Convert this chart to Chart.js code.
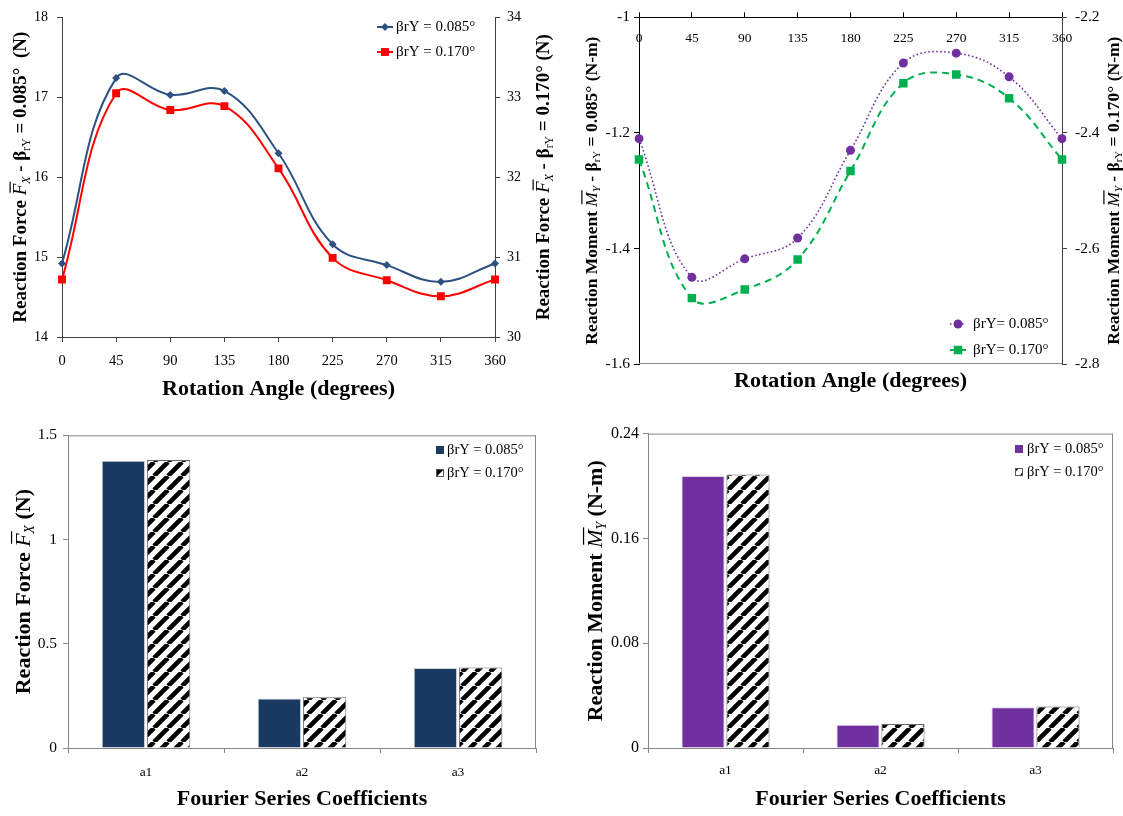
<!DOCTYPE html>
<html>
<head>
<meta charset="utf-8">
<script src="https://cdn.jsdelivr.net/npm/chart.js@4.4.1/dist/chart.umd.min.js"></script>
<style>
  html, body { margin: 0; padding: 0; background: #fff; }
  body { width: 1123px; height: 816px; position: relative; overflow: hidden; }
  canvas { position: absolute; }
</style>
</head>
<body>
<canvas id="forceLine" width="560" height="410" style="left:0;top:0"></canvas>
<canvas id="momentLine" width="563" height="410" style="left:560px;top:0"></canvas>
<canvas id="forceBars" width="560" height="396" style="left:0;top:420px"></canvas>
<canvas id="momentBars" width="563" height="396" style="left:560px;top:420px"></canvas>
<script>
// rotation angle sweep (degrees)
const angles = ['0', '45', '90', '135', '180', '225', '270', '315', '360'];

// mean reaction force Fx, left axis (0.085°) and right axis (0.170°)
const forceLow = [14.92, 17.24, 17.03, 17.08, 16.30, 15.16, 14.90, 14.69, 14.92];
const forceHigh = [30.72, 33.05, 32.84, 32.89, 32.11, 30.99, 30.71, 30.51, 30.72];

// mean reaction moment My, left axis (0.085°) and right axis (0.170°)
const momentLow = [-1.210, -1.450, -1.418, -1.382, -1.230, -1.079, -1.062, -1.103, -1.210];
const momentHigh = [-2.446, -2.686, -2.671, -2.619, -2.466, -2.314, -2.299, -2.340, -2.446];

// Fourier series coefficients
const coeffs = ['a1', 'a2', 'a3'];
const forceCoeffLow = [1.378, 0.238, 0.384];
const forceCoeffHigh = [1.381, 0.243, 0.386];
const momentCoeffLow = [0.2077, 0.0178, 0.0312];
const momentCoeffHigh = [0.2088, 0.0183, 0.0317];

// tick values
const forceTicksLeft = [14, 15, 16, 17, 18];
const forceTicksRight = [30, 31, 32, 33, 34];
const momentTicksLeft = [-1.6, -1.4, -1.2, -1];
const momentTicksRight = [-2.8, -2.6, -2.4, -2.2];
const forceCoeffTicks = [0, 0.5, 1, 1.5];
const momentCoeffTicks = [0, 0.08, 0.16, 0.24];

const lowLabel = 'βrY = 0.085°';
const highLabel = 'βrY = 0.170°';

const serif = '"Liberation Serif", "Times New Roman", serif';

// diagonal hatch for the 0.170° bars
function hatch() {
  const s = 14;
  const tile = document.createElement('canvas');
  tile.width = s; tile.height = s;
  const c = tile.getContext('2d');
  c.fillStyle = '#fff';
  c.fillRect(0, 0, s, s);
  c.strokeStyle = '#000';
  c.lineWidth = 4.6;
  c.beginPath();
  for (let k = -1; k <= 1; k++) {
    c.moveTo(k * s, s);
    c.lineTo(k * s + s, 0);
  }
  c.stroke();
  return c.createPattern(tile, 'repeat');
}
const stripes = hatch();

function yAxis(position, ticks, width, color, padding, size) {
  return {
    position,
    min: ticks[0],
    max: ticks[ticks.length - 1],
    afterBuildTicks: s => { s.ticks = ticks.map(value => ({ value })); },
    afterFit: s => { s.width = width; },
    ticks: { font: { family: serif, size }, color: '#000', padding, callback: v => String(+v.toFixed(3)) },
    grid: { drawOnChartArea: false, tickLength: 5, color, tickColor: color },
    border: { color, width: 1 }
  };
}

function xAxis(height, color, padding, size, extra) {
  return Object.assign({
    afterFit: s => { s.height = height; },
    ticks: { font: { family: serif, size }, color: '#000', padding, maxRotation: 0, autoSkip: false },
    grid: { drawOnChartArea: false, tickLength: 5, color, tickColor: color },
    border: { color, width: 1 }
  }, extra || {});
}

// axis titles with italic, overlined and subscript pieces
function drawRich(ctx, parts, cx, cy, angle, size) {
  const runs = parts.map(([text, style]) => {
    const tags = style.split(' ');
    const sub = tags.includes('sub');
    const px = sub ? size * 0.62 : size;
    const font = (tags.includes('I') ? 'italic ' : '') + (tags.includes('B') ? 'bold ' : '') + px + 'px ' + serif;
    ctx.font = font;
    return { text, font, sub, bar: tags.includes('bar'), w: ctx.measureText(text).width };
  });
  const total = runs.reduce((t, r) => t + r.w, 0);
  ctx.save();
  ctx.translate(cx, cy);
  ctx.rotate(angle);
  ctx.fillStyle = '#000';
  ctx.strokeStyle = '#000';
  ctx.textBaseline = 'alphabetic';
  const base = size * 0.34;
  let x = -total / 2;
  runs.forEach(r => {
    ctx.font = r.font;
    ctx.fillText(r.text, x, r.sub ? base + size * 0.18 : base);
    if (r.bar) {
      ctx.lineWidth = 1.2;
      ctx.beginPath();
      ctx.moveTo(x + size * 0.14, base - size * 0.86);
      ctx.lineTo(x + r.w + size * 0.1, base - size * 0.86);
      ctx.stroke();
    }
    x += r.w;
  });
  ctx.restore();
}

function titles(items) {
  return {
    id: 'titles',
    afterDraw(chart) {
      const a = chart.chartArea;
      items.forEach(t => {
        if (t.side === 'bottom') drawRich(chart.ctx, t.parts, (a.left + a.right) / 2, t.pos, 0, t.size);
        else drawRich(chart.ctx, t.parts, t.pos, (a.top + a.bottom) / 2, -Math.PI / 2, t.size);
      });
    }
  };
}

function frame(color, sides) {
  return {
    id: 'frame',
    beforeDatasetsDraw(chart) {
      const { ctx, chartArea: a } = chart;
      ctx.save();
      ctx.strokeStyle = color;
      ctx.lineWidth = 1;
      ctx.beginPath();
      if (sides.includes('top')) { ctx.moveTo(a.left, a.top + 0.5); ctx.lineTo(a.right, a.top + 0.5); }
      if (sides.includes('bottom')) { ctx.moveTo(a.left, a.bottom - 0.5); ctx.lineTo(a.right, a.bottom - 0.5); }
      if (sides.includes('right')) { ctx.moveTo(a.right - 0.5, a.top); ctx.lineTo(a.right - 0.5, a.bottom); }
      ctx.stroke();
      ctx.restore();
    }
  };
}

function marker(ctx, style, x, y, r, color) {
  ctx.fillStyle = color;
  ctx.beginPath();
  if (style === 'circle') {
    ctx.arc(x, y, r, 0, Math.PI * 2);
  } else if (style === 'rectRot') {
    ctx.moveTo(x - r, y); ctx.lineTo(x, y - r); ctx.lineTo(x + r, y); ctx.lineTo(x, y + r); ctx.closePath();
  } else {
    const h = r * Math.SQRT1_2;
    ctx.rect(x - h, y - h, 2 * h, 2 * h);
  }
  ctx.fill();
}

function lineKey(x, ys, gap, size) {
  return {
    id: 'lineKey',
    afterDraw(chart) {
      const ctx = chart.ctx;
      chart.data.datasets.forEach((ds, i) => {
        const y = ys[i];
        ctx.save();
        ctx.strokeStyle = ds.borderColor;
        ctx.lineWidth = ds.borderWidth;
        ctx.setLineDash(ds.borderDash || []);
        ctx.beginPath();
        ctx.moveTo(x, y);
        ctx.lineTo(x + 16, y);
        ctx.stroke();
        ctx.setLineDash([]);
        marker(ctx, ds.pointStyle, x + 8, y, ds.pointRadius, ds.pointBackgroundColor);
        ctx.font = size + 'px ' + serif;
        ctx.fillStyle = '#000';
        ctx.textBaseline = 'middle';
        ctx.fillText(ds.label, x + 16 + gap, y);
        ctx.restore();
      });
    }
  };
}

function barKey(x, ys, gap, size) {
  return {
    id: 'barKey',
    afterDraw(chart) {
      const ctx = chart.ctx;
      chart.data.datasets.forEach((ds, i) => {
        const y = ys[i];
        ctx.save();
        ctx.fillStyle = ds.backgroundColor;
        ctx.fillRect(x, y - 4, 8, 8);
        if (i > 0) {
          ctx.strokeStyle = '#555';
          ctx.lineWidth = 1;
          ctx.strokeRect(x + 0.5, y - 3.5, 7, 7);
        }
        ctx.font = size + 'px ' + serif;
        ctx.fillStyle = '#000';
        ctx.textBaseline = 'middle';
        ctx.fillText(ds.label, x + 8 + gap, y);
        ctx.restore();
      });
    }
  };
}

const base = {
  responsive: false,
  animation: false,
  devicePixelRatio: 1,
};
const quiet = { legend: { display: false }, tooltip: { enabled: false } };

// Reaction force vs rotation angle
const blue = '#2C5080';
const red = '#FF0000';
new Chart(document.getElementById('forceLine'), {
  type: 'line',
  data: {
    labels: angles,
    datasets: [
      { label: lowLabel, data: forceLow, yAxisID: 'y', borderColor: blue, pointBackgroundColor: blue, pointBorderColor: blue,
        borderWidth: 2, pointStyle: 'rectRot', pointRadius: 4, pointBorderWidth: 0, tension: 0.4 },
      { label: highLabel, data: forceHigh, yAxisID: 'y2', borderColor: red, pointBackgroundColor: red, pointBorderColor: red,
        borderWidth: 2, pointStyle: 'rect', pointRadius: 5.6, pointBorderWidth: 0, tension: 0.4 }
    ]
  },
  options: Object.assign({}, base, {
    layout: { padding: { top: 12, left: 0, right: 0, bottom: 0 } },
    plugins: quiet,
    scales: {
      x: xAxis(73, '#404040', 10, 14.5),
      y: yAxis('left', forceTicksLeft, 62, '#404040', 9, 14),
      y2: yAxis('right', forceTicksRight, 65, '#404040', 7, 14)
    }
  }),
  plugins: [
    lineKey(377, [27, 52], 3, 15),
    titles([
      { side: 'left', pos: 20, size: 19, parts: [['Reaction Force ', 'B'], ['F', 'I bar'], ['X', 'I sub'], [' - β', 'B'], ['rY', 'sub'], [' = 0.085°  (N)', 'B']] },
      { side: 'right', pos: 543, size: 19, parts: [['Reaction Force ', 'B'], ['F', 'I bar'], ['X', 'I sub'], [' - β', 'B'], ['rY', 'sub'], [' = 0.170° (N)', 'B']] },
      { side: 'bottom', pos: 388, size: 22, parts: [['Rotation Angle (degrees)', 'B']] }
    ])
  ]
});

// Reaction moment vs rotation angle
const purple = '#7030A0';
const green = '#00B050';
new Chart(document.getElementById('momentLine'), {
  type: 'line',
  data: {
    labels: angles,
    datasets: [
      { label: 'βrY= 0.085°', data: momentLow, yAxisID: 'y', borderColor: purple, pointBackgroundColor: purple, pointBorderColor: purple,
        borderWidth: 1.6, borderDash: [1.6, 2.4], pointStyle: 'circle', pointRadius: 4.5, pointBorderWidth: 0, tension: 0.4 },
      { label: 'βrY= 0.170°', data: momentHigh, yAxisID: 'y2', borderColor: green, pointBackgroundColor: green, pointBorderColor: green,
        borderWidth: 2, borderDash: [7, 5], pointStyle: 'rect', pointRadius: 6, pointBorderWidth: 0, tension: 0.4 }
    ]
  },
  options: Object.assign({}, base, {
    layout: { padding: { top: 0, left: 0, right: 0, bottom: 46 } },
    plugins: quiet,
    scales: {
      // the angle labels sit inside the plot, under the top axis line
      x: xAxis(13, '#000', 13, 13.5, { position: 'top' }),
      y: yAxis('left', momentTicksLeft, 79, '#000', 4, 15.5),
      y2: yAxis('right', momentTicksRight, 61, '#404040', 8, 15.5)
    }
  }),
  plugins: [
    frame('#8c8c8c', ['bottom']),
    lineKey(390, [324, 350], 7, 15),
    titles([
      { side: 'left', pos: 31, size: 17.5, parts: [['Reaction Moment ', 'B'], ['M', 'I bar'], ['Y', 'I sub'], [' - β', 'B'], ['rY', 'sub'], [' = 0.085° (N-m)', 'B']] },
      { side: 'right', pos: 553, size: 17.5, parts: [['Reaction Moment ', 'B'], ['M', 'I bar'], ['Y', 'I sub'], [' - β', 'B'], ['rY', 'sub'], [' = 0.170° (N-m)', 'B']] },
      { side: 'bottom', pos: 380, size: 22, parts: [['Rotation Angle (degrees)', 'B']] }
    ])
  ]
});
Chart.getChart('momentLine').options.scales.x.ticks.mirror = true;
Chart.getChart('momentLine').update();

// Fourier coefficients of the reaction force
const navy = '#1B3A61';
new Chart(document.getElementById('forceBars'), {
  type: 'bar',
  data: {
    labels: coeffs,
    datasets: [
      { label: lowLabel, data: forceCoeffLow, backgroundColor: navy, borderColor: '#d0d6de', borderWidth: 1 },
      { label: highLabel, data: forceCoeffHigh, backgroundColor: stripes, borderColor: '#666', borderWidth: 1 }
    ]
  },
  options: Object.assign({}, base, {
    layout: { padding: { top: 13, left: 0, right: 24, bottom: 0 } },
    plugins: quiet,
    datasets: { bar: { categoryPercentage: 0.58, barPercentage: 0.96 } },
    scales: {
      x: xAxis(68, '#868686', 11, 13.5),
      y: yAxis('left', forceCoeffTicks, 68, '#868686', 6, 15.5)
    }
  }),
  plugins: [
    frame('#868686', ['top', 'right']),
    barKey(436, [30, 53], 3, 14.5),
    titles([
      { side: 'left', pos: 23, size: 22, parts: [['Reaction Force ', 'B'], ['F', 'I bar'], ['X', 'I sub'], [' (N)', 'B']] },
      { side: 'bottom', pos: 378, size: 22, parts: [['Fourier Series Coefficients', 'B']] }
    ])
  ]
});

// Fourier coefficients of the reaction moment
new Chart(document.getElementById('momentBars'), {
  type: 'bar',
  data: {
    labels: coeffs,
    datasets: [
      { label: lowLabel, data: momentCoeffLow, backgroundColor: purple, borderColor: '#e0d4ea', borderWidth: 1 },
      { label: highLabel, data: momentCoeffHigh, backgroundColor: stripes, borderColor: '#666', borderWidth: 1 }
    ]
  },
  options: Object.assign({}, base, {
    layout: { padding: { top: 13, left: 0, right: 10, bottom: 0 } },
    plugins: quiet,
    datasets: { bar: { categoryPercentage: 0.58, barPercentage: 0.96 } },
    scales: {
      x: xAxis(68, '#868686', 9, 13.5),
      y: yAxis('left', momentCoeffTicks, 88, '#868686', 4, 16)
    }
  }),
  plugins: [
    frame('#868686', ['top', 'right']),
    barKey(455, [29, 52], 4, 14.5),
    titles([
      { side: 'left', pos: 35, size: 22, parts: [['Reaction Moment ', 'B'], ['M', 'I bar'], ['Y', 'I sub'], [' (N-m)', 'B']] },
      { side: 'bottom', pos: 378, size: 22, parts: [['Fourier Series Coefficients', 'B']] }
    ])
  ]
});
</script>
</body>
</html>
